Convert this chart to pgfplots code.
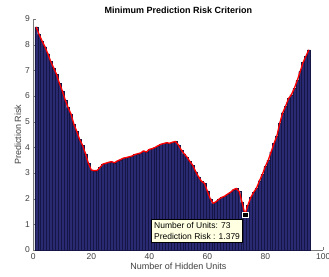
\documentclass[border=0pt]{standalone}
\usepackage{fontspec}
\setmainfont{Liberation Sans}
\usepackage{pgfplots}
\pgfplotsset{compat=1.18}
\usepackage{pgfplotstable}
\definecolor{barnavy}{RGB}{42,42,115}
\definecolor{baredge}{RGB}{22,22,70}
\definecolor{axgray}{RGB}{120,120,120}
\definecolor{tipbg}{RGB}{255,255,225}
\pgfplotstableread{
n v
1 8.69
2 8.40
3 8.15
4 7.92
5 7.65
6 7.35
7 7.10
8 6.85
9 6.50
10 6.20
11 5.85
12 5.55
13 5.30
14 4.90
15 4.62
16 4.30
17 4.08
18 3.75
19 3.38
20 3.12
21 3.09
22 3.10
23 3.22
24 3.35
25 3.38
26 3.42
27 3.44
28 3.40
29 3.47
30 3.52
31 3.58
32 3.60
33 3.63
34 3.66
35 3.72
36 3.75
37 3.78
38 3.86
39 3.82
40 3.92
41 3.95
42 4.00
43 4.06
44 4.12
45 4.15
46 4.18
47 4.16
48 4.20
49 4.23
50 4.10
51 3.90
52 3.75
53 3.62
54 3.45
55 3.30
56 3.05
57 2.85
58 2.68
59 2.60
60 2.30
61 2.00
62 1.82
63 1.88
64 1.98
65 2.05
66 2.10
67 2.18
68 2.25
69 2.35
70 2.40
71 2.28
72 1.85
73 1.379
74 1.75
75 2.05
76 2.25
77 2.42
78 2.70
79 2.95
80 3.25
81 3.50
82 3.82
83 4.15
84 4.45
85 4.95
86 5.35
87 5.60
88 5.90
89 6.05
90 6.30
91 6.60
92 6.95
93 7.30
94 7.55
95 7.80
}\risk
\begin{document}
\begin{tikzpicture}
\begin{axis}[
  scale only axis,
  width=290pt, height=231pt,
  xmin=0, xmax=100, ymin=0, ymax=9,
  axis x line=bottom, axis y line=left,
  axis line style={axgray, -},
  xtick={0,20,...,100}, ytick={0,1,...,9},
  tick align=inside,
  major tick length=3pt,
  tick style={axgray},
  ticklabel style={font=\fontsize{8.5}{10}\selectfont, text=black!75},
  /pgf/number format/assume math mode=true,
  xlabel={Number of Hidden Units},
  ylabel={Prediction Risk},
  xlabel style={font=\fontsize{9}{10}\selectfont, text=black!75, yshift=3pt},
  ylabel style={font=\fontsize{9}{10}\selectfont, text=black!75, yshift=-3pt},
  title={Minimum Prediction Risk Criterion},
  title style={font=\bfseries\fontsize{9}{10}\selectfont, yshift=-4pt},
  clip=false,
]
\addplot[ybar, bar width=1, fill=barnavy, draw=baredge, line width=0.3pt] table[x=n, y=v] {\risk};
\addplot[red, line width=1.3pt, line join=round] table[x=n, y=v] {\risk};
\addplot[only marks, mark=square*, mark size=2.7pt, mark options={fill=black, draw=white, line width=0.4pt}] coordinates {(73,1.379)};
\node[anchor=north east, fill=tipbg, draw=black, line width=0.4pt, align=left,
  font=\fontsize{8.5}{11.5}\selectfont, inner sep=2.5pt]
  at (axis cs:72.2,1.19) {Number of Units: 73\\Prediction Risk : 1.379};
\end{axis}
\pgfresetboundingbox
\path (-33.3pt,-26pt) rectangle (295.7pt,250pt);
\end{tikzpicture}
\end{document}
